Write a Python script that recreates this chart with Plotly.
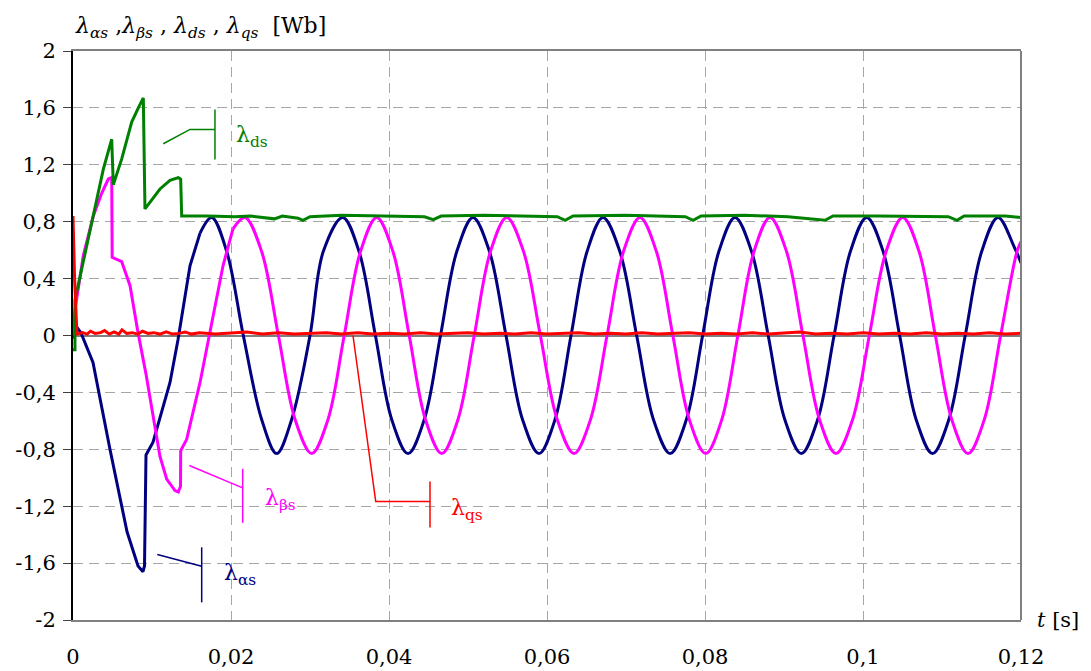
import plotly.graph_objects as go

# ---- data (t in s, flux in Wb) ----
# lambda_alpha_s : start-up transient (drawn with straight segments)
alpha_t_tr = [0.0, 0.0006, 0.0010, 0.00253, 0.00468, 0.00684, 0.00823, 0.00886,
              0.00905, 0.00924, 0.01013, 0.01228, 0.01329, 0.01376, 0.01481, 0.01608]
alpha_v_tr = [-0.02, 0.05, 0.02, -0.19, -0.80, -1.38, -1.62, -1.66,
              -1.62, -0.84, -0.75, -0.33, -0.03, 0.13, 0.49, 0.72]
# lambda_alpha_s : steady oscillation
alpha_t = [0.01608, 0.01756, 0.01946, 0.02156, 0.02388, 0.02578, 0.02768, 0.0300, 0.03168,
           0.03414, 0.03621, 0.03828, 0.04034, 0.04241, 0.04447, 0.04652, 0.04858,
           0.05063, 0.05272, 0.05481, 0.0569, 0.05899, 0.06102, 0.06304, 0.06507,
           0.06709, 0.06922, 0.07135, 0.07347, 0.0756, 0.07765, 0.0797, 0.08175,
           0.0838, 0.0859, 0.088, 0.0901, 0.0922, 0.09427, 0.09634, 0.0984,
           0.10047, 0.10255, 0.10464, 0.10672, 0.1088, 0.11087, 0.11294, 0.11502,
           0.11709, 0.11916, 0.12]
alpha_v = [0.72, 0.83, 0.59, 0.0, -0.59, -0.83, -0.59, 0.0, 0.59,
           0.83, 0.59, 0.0, -0.59, -0.83, -0.59, 0.0, 0.59,
           0.83, 0.59, 0.0, -0.59, -0.83, -0.59, 0.0, 0.59,
           0.83, 0.59, 0.0, -0.59, -0.83, -0.59, 0.0, 0.59,
           0.83, 0.59, 0.0, -0.59, -0.83, -0.59, 0.0, 0.59,
           0.83, 0.59, 0.0, -0.59, -0.83, -0.59, 0.0, 0.59,
           0.83, 0.62, 0.51]

# lambda_beta_s
beta_t_tr = [0.0, 0.00025, 0.0013, 0.00257, 0.00363, 0.00447, 0.0049, 0.00496, 0.00616,
             0.00722, 0.00823, 0.00924, 0.0100, 0.01101, 0.01186, 0.01291, 0.01333,
             0.01361, 0.01363, 0.01439, 0.01608, 0.01734, 0.01899, 0.02025]
beta_v_tr = [0.0, 0.18, 0.56, 0.84, 1.0, 1.10, 1.11, 0.55, 0.52,
             0.35, 0.02, -0.27, -0.52, -0.85, -1.01, -1.09, -1.10,
             -1.06, -0.81, -0.73, -0.33, 0.02, 0.49, 0.75]
beta_t = [0.02025, 0.02177, 0.02388, 0.026, 0.02811, 0.03022, 0.03228, 0.03433, 0.03639,
          0.03844, 0.0405, 0.04256, 0.04461, 0.04667, 0.04873, 0.05079, 0.05284,
          0.0549, 0.05703, 0.05916, 0.06129, 0.06342, 0.06551, 0.0676, 0.06968,
          0.07177, 0.07385, 0.07593, 0.07801, 0.08009, 0.08213, 0.08416, 0.0862,
          0.08823, 0.09032, 0.0924, 0.09449, 0.09658, 0.09869, 0.1008, 0.10292,
          0.10503, 0.1071, 0.10916, 0.11123, 0.11329, 0.11536, 0.11742, 0.11949, 0.12]
beta_v = [0.75, 0.83, 0.59, 0.0, -0.59, -0.83, -0.59, 0.0, 0.59,
          0.83, 0.59, 0.0, -0.59, -0.83, -0.59, 0.0, 0.59,
          0.83, 0.59, 0.0, -0.59, -0.83, -0.59, 0.0, 0.59,
          0.83, 0.59, 0.0, -0.59, -0.83, -0.59, 0.0, 0.59,
          0.83, 0.59, 0.0, -0.59, -0.83, -0.59, 0.0, 0.59,
          0.83, 0.59, 0.0, -0.59, -0.83, -0.59, 0.0, 0.59, 0.66]

# lambda_ds
ds_t = [0.0, 0.00025, 0.00025, 0.00257, 0.00384, 0.0049, 0.0051, 0.00616, 0.00743,
        0.00827, 0.0089, 0.00911, 0.00975, 0.01101, 0.01228, 0.01333, 0.01363, 0.01376,
        0.017, 0.0205, 0.0225, 0.0255, 0.0265, 0.0285, 0.0291, 0.0300, 0.034, 0.038,
        0.0445, 0.0456, 0.0466, 0.052, 0.056, 0.0613, 0.0623, 0.0633, 0.070, 0.074,
        0.0775, 0.0785, 0.0795, 0.085, 0.0905, 0.0952, 0.0962, 0.102, 0.1108,
        0.1119, 0.1128, 0.118, 0.12]
ds_v = [-0.1, -0.1, 0.25, 0.86, 1.17, 1.38, 1.06, 1.24, 1.50,
        1.60, 1.67, 0.89, 0.94, 1.03, 1.09, 1.11, 1.10, 0.84,
        0.84, 0.835, 0.84, 0.82, 0.84, 0.825, 0.81, 0.835, 0.845, 0.84,
        0.835, 0.815, 0.84, 0.845, 0.84, 0.835, 0.81, 0.84, 0.845, 0.84,
        0.835, 0.81, 0.84, 0.845, 0.835, 0.81, 0.84, 0.84, 0.835,
        0.81, 0.84, 0.84, 0.83]

# lambda_qs
qs_t = [0.0, 0.0002, 0.0005, 0.0012, 0.0018, 0.0022, 0.0028, 0.0035, 0.0040, 0.0046,
        0.0052, 0.0058, 0.0062, 0.0068, 0.0075, 0.0082, 0.0088, 0.0095, 0.0102, 0.0110,
        0.0118, 0.0126, 0.0134, 0.0142, 0.0150, 0.0160, 0.0180, 0.0200, 0.0220, 0.0240,
        0.0260, 0.0280, 0.0300, 0.0320, 0.0340, 0.0360, 0.0380, 0.0400, 0.0420, 0.0440,
        0.0460, 0.0480, 0.0500, 0.0520, 0.0540, 0.0560, 0.0580, 0.0600, 0.0620, 0.0640,
        0.0660, 0.0680, 0.0700, 0.0720, 0.0740, 0.0760, 0.0780, 0.0800, 0.0820, 0.0840,
        0.0860, 0.0880, 0.0900, 0.0920, 0.0940, 0.0960, 0.0980, 0.1000, 0.1020, 0.1040,
        0.1060, 0.1080, 0.1100, 0.1120, 0.1140, 0.1160, 0.1180, 0.1200]
qs_v = [0.84, 0.40, 0.01, 0.02, 0.01, 0.03, 0.015, 0.02, 0.035, 0.01,
        0.025, 0.01, 0.04, 0.015, 0.02, 0.01, 0.03, 0.015, 0.02, 0.01,
        0.025, 0.01, 0.015, 0.025, 0.01, 0.02, 0.01, 0.015, 0.025, 0.01,
        0.02, 0.01, 0.015, 0.02, 0.01, 0.02, 0.01, 0.015, 0.01, 0.02,
        0.01, 0.015, 0.02, 0.01, 0.015, 0.01, 0.02, 0.01, 0.015, 0.02,
        0.01, 0.015, 0.01, 0.02, 0.01, 0.015, 0.02, 0.01, 0.015, 0.01,
        0.02, 0.01, 0.015, 0.025, 0.01, 0.015, 0.01, 0.02, 0.01, 0.015,
        0.01, 0.02, 0.01, 0.015, 0.01, 0.02, 0.01, 0.015]

x_ticks = [0, 0.02, 0.04, 0.06, 0.08, 0.1, 0.12]
x_labels = ["0", "0,02", "0,04", "0,06", "0,08", "0,1", "0,12"]
y_ticks = [-2, -1.6, -1.2, -0.8, -0.4, 0, 0.4, 0.8, 1.2, 1.6, 2]
y_labels = ["-2", "-1,6", "-1,2", "-0,8", "-0,4", "0", "0,4", "0,8", "1,2", "1,6", "2"]

NAVY = "#000080"
MAGENTA = "#ff00ff"
GREEN = "#008000"
RED = "#ff0000"
FONT = "DejaVu Serif"

fig = go.Figure()

def add(t, v, colour, shape):
    fig.add_trace(go.Scatter(x=t, y=v, mode="lines",
                             line=dict(color=colour, width=3, shape=shape)))

add(alpha_t_tr, alpha_v_tr, NAVY, "linear")
add(alpha_t, alpha_v, NAVY, "spline")
add(beta_t_tr, beta_v_tr, MAGENTA, "linear")
add(beta_t, beta_v, MAGENTA, "spline")
add(ds_t, ds_v, GREEN, "linear")
add(qs_t, qs_v, RED, "linear")

# leader lines for the curve labels
leaders = [
    (GREEN, "M 0.01143,1.348 L 0.01481,1.449 L 0.01797,1.449", (0.01797, 1.238, 1.589)),
    (MAGENTA, "M 0.01472,-0.914 L 0.02148,-1.071", (0.02148, -1.317, -0.937)),
    (NAVY, "M 0.01067,-1.540 L 0.01629,-1.622", (0.01629, -1.876, -1.489)),
    (RED, "M 0.03544,0.0 L 0.03832,-1.167 L 0.04519,-1.167", (0.04519, -1.350, -1.027)),
]
for colour, path, (bx, by0, by1) in leaders:
    fig.add_shape(type="path", path=path, xref="x", yref="y",
                  line=dict(color=colour, width=1.5))
    fig.add_shape(type="line", x0=bx, x1=bx, y0=by0, y1=by1, xref="x", yref="y",
                  line=dict(color=colour, width=1.5))

labels = [
    ("λ<sub>ds</sub>", 0.02038, 1.40, GREEN),
    ("λ<sub>βs</sub>", 0.02401, -1.153, MAGENTA),
    ("λ<sub>αs</sub>", 0.01882, -1.68, NAVY),
    ("λ<sub>qs</sub>", 0.04763, -1.22, RED),
]
for txt, x, y, colour in labels:
    fig.add_annotation(x=x, y=y, xref="x", yref="y", text=txt, showarrow=False,
                       xanchor="left", yanchor="middle",
                       font=dict(family=FONT, size=22, color=colour))

# right border of the plot box
fig.add_shape(type="line", xref="paper", yref="paper", x0=1, x1=1, y0=0, y1=1,
              line=dict(color="#808080", width=2))

fig.add_annotation(
    xref="paper", yref="paper", x=0.0, y=1.042, xanchor="left", yanchor="middle",
    text="<i>λ</i><sub><i>αs</i></sub> ,<i>λ</i><sub><i>βs</i></sub> , "
         "<i>λ</i><sub><i>ds</i></sub> , <i>λ</i><sub><i>qs</i></sub>  [Wb]",
    showarrow=False, font=dict(family=FONT, size=22, color="black"))
fig.add_annotation(
    xref="paper", yref="paper", x=1.015, y=0.0, xanchor="left", yanchor="middle",
    text="<i>t</i> [s]", showarrow=False,
    font=dict(family=FONT, size=21, color="black"))

# the page body adds an 8 px offset, so the margins are shifted to compensate
fig.update_layout(
    width=1091, height=671,
    margin=dict(l=65, r=78, t=43, b=59),
    plot_bgcolor="white", paper_bgcolor="white",
    showlegend=False,
    font=dict(family=FONT, size=21, color="black"),
    xaxis=dict(range=[0, 0.12], tickvals=x_ticks, ticktext=x_labels, automargin=False,
               showgrid=True, gridcolor="#a6a6a6", griddash="10px,6px", gridwidth=1,
               showline=True, linecolor="#808080", linewidth=2, mirror=True,
               ticks="", zeroline=False, ticklabelstandoff=17),
    yaxis=dict(range=[-2, 2], tickvals=y_ticks, ticktext=y_labels, automargin=False,
               showgrid=True, gridcolor="#a6a6a6", griddash="10px,6px", gridwidth=1,
               showline=True, linecolor="black", linewidth=2,
               ticks="outside", ticklen=8, tickcolor="#404040",
               zeroline=True, zerolinecolor="#808080", zerolinewidth=2,
               ticklabelstandoff=3),
)

fig.write_html("out.html")
